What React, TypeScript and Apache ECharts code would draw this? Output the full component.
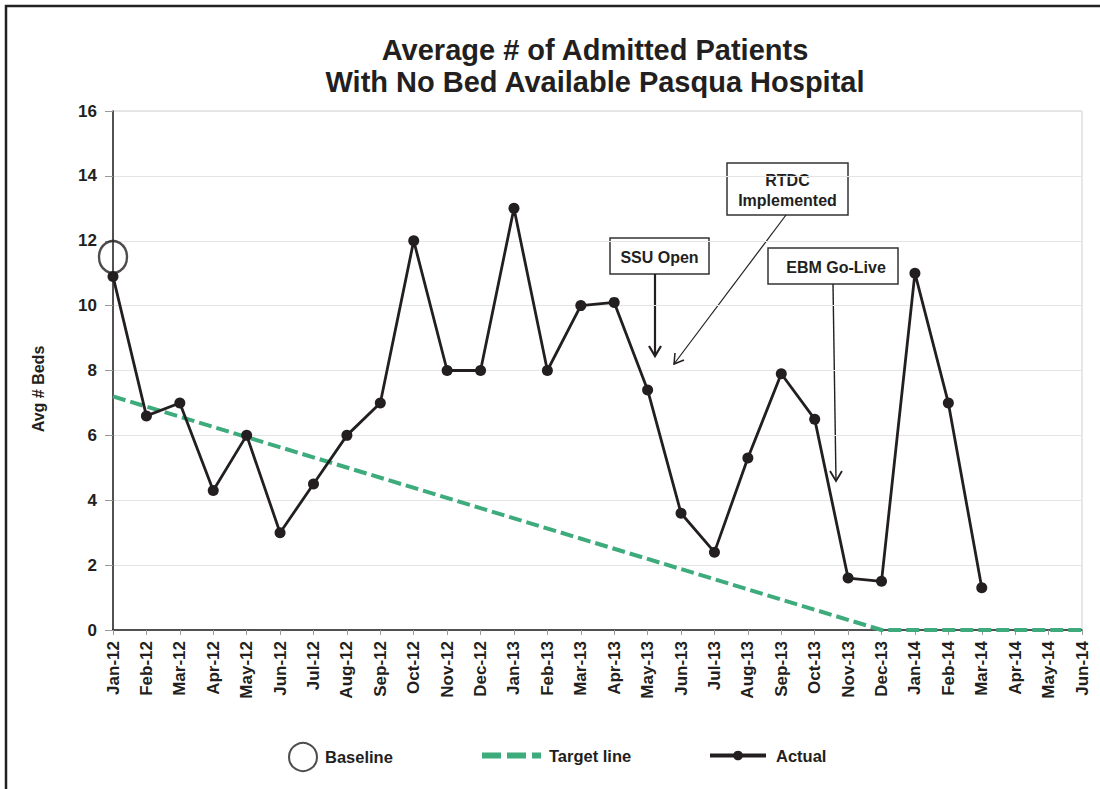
import React, { useEffect, useRef } from "react";
import * as echarts from "echarts";

const months = [
  "Jan-12", "Feb-12", "Mar-12", "Apr-12", "May-12", "Jun-12", "Jul-12", "Aug-12", "Sep-12", "Oct-12", "Nov-12", "Dec-12",
  "Jan-13", "Feb-13", "Mar-13", "Apr-13", "May-13", "Jun-13", "Jul-13", "Aug-13", "Sep-13", "Oct-13", "Nov-13", "Dec-13",
  "Jan-14", "Feb-14", "Mar-14", "Apr-14", "May-14", "Jun-14",
];

const actualValues = [
  10.9, 6.6, 7.0, 4.3, 6.0, 3.0, 4.5, 6.0, 7.0, 12.0, 8.0, 8.0,
  13.0, 8.0, 10.0, 10.1, 7.4, 3.6, 2.4, 5.3, 7.9, 6.5, 1.6, 1.5,
  11.0, 7.0, 1.3,
];

const targetPoints: [string, number][] = [
  ["Jan-12", 7.2],
  ["Dec-13", 0],
  ["Jun-14", 0],
];

const baselinePoint: [string, number][] = [["Jan-12", 11.5]];

const yTicks = { min: 0, max: 16, interval: 2 };

const FONT = "'Liberation Sans', Arial, Helvetica, sans-serif";
const INK = "#231f20";
const GREEN = "#3dab7b";

function arrow(points: number[][], width: number) {
  return {
    type: "polyline",
    shape: { points },
    style: { stroke: INK, lineWidth: width, fill: null },
    silent: true,
  };
}

export default function App() {
  const ref = useRef<HTMLDivElement>(null);
  useEffect(() => {
    if (!ref.current) return;
    const chart = echarts.init(ref.current, undefined, { renderer: "svg" });
    const boxText = (x: number, y: number, text: string) => ({
      type: "text",
      x,
      y,
      style: {
        text,
        fontFamily: FONT,
        fontWeight: "bold",
        fontSize: 16,
        lineHeight: 20,
        fill: INK,
        align: "center",
        verticalAlign: "middle",
      },
      silent: true,
    });
    const box = (x: number, y: number, w: number, h: number) => ({
      type: "rect",
      shape: { x, y, width: w, height: h },
      style: { fill: "#fff", stroke: "#333", lineWidth: 1.5 },
      silent: true,
    });
    const legendText = (padLeft: number) => ({
      fontFamily: FONT,
      fontWeight: "bold",
      fontSize: 16.5,
      color: INK,
      padding: [0, 0, 0, padLeft],
    });
    const option: any = {
      animation: false,
      backgroundColor: "#fff",
      title: {
        text: "Average # of Admitted Patients\nWith No Bed Available Pasqua Hospital",
        left: 590,
        top: 29,
        textAlign: "center",
        textStyle: {
          fontFamily: FONT,
          fontWeight: "bold",
          fontSize: 29,
          lineHeight: 32,
          color: INK,
        },
      },
      grid: {
        left: 113,
        right: 18,
        top: 111,
        bottom: 159,
        show: true,
        borderColor: "#cfcfcf",
        borderWidth: 1,
      },
      xAxis: {
        type: "category",
        data: months,
        boundaryGap: false,
        axisLine: { lineStyle: { color: INK, width: 1.5 } },
        axisTick: { show: true, length: 5, lineStyle: { color: "#999" } },
        axisLabel: {
          interval: 0,
          rotate: 90,
          margin: 11,
          fontFamily: FONT,
          fontWeight: "bold",
          fontSize: 17,
          color: INK,
        },
        splitLine: { show: false },
      },
      yAxis: {
        type: "value",
        min: yTicks.min,
        max: yTicks.max,
        interval: yTicks.interval,
        axisLine: { show: true, lineStyle: { color: INK, width: 1.5 } },
        axisTick: { show: true, length: 8, lineStyle: { color: "#999" } },
        axisLabel: {
          margin: 16,
          fontFamily: FONT,
          fontWeight: "bold",
          fontSize: 17,
          color: INK,
        },
        splitLine: { show: true, lineStyle: { color: "#e4e4e4", width: 1 } },
      },
      legend: [
        {
          data: ["Baseline"],
          left: 288,
          top: 742,
          padding: 0,
          itemWidth: 28,
          itemHeight: 28,
          selectedMode: false,
          textStyle: legendText(3),
        },
        {
          data: [
            {
              name: "Target line",
              icon: "path://M0,0H19V6H0Z M25,0H44V6H25Z M50,0H59V6H50Z",
            },
          ],
          left: 482,
          top: 747,
          padding: 0,
          itemWidth: 59,
          itemHeight: 6,
          selectedMode: false,
          textStyle: legendText(3),
        },
        {
          data: ["Actual"],
          left: 708,
          top: 747,
          padding: 0,
          itemWidth: 56,
          itemHeight: 12,
          selectedMode: false,
          lineStyle: { width: 4 },
          textStyle: legendText(5),
        },
      ],
      series: [
        {
          name: "Target line",
          type: "line",
          data: targetPoints,
          symbol: "none",
          z: 2,
          lineStyle: { color: GREEN, width: 4, type: [13, 5] },
          itemStyle: { color: GREEN },
        },
        {
          name: "Actual",
          type: "line",
          data: actualValues,
          symbol: "circle",
          symbolSize: 11,
          z: 3,
          lineStyle: { color: INK, width: 2.8 },
          itemStyle: { color: INK },
        },
        {
          name: "Baseline",
          type: "scatter",
          data: baselinePoint,
          symbol: "circle",
          symbolSize: [28, 32],
          z: 4,
          itemStyle: { color: "rgba(255,255,255,0)", borderColor: INK, borderWidth: 2.5 },
        },
      ],
      graphic: [
        {
          type: "polyline",
          shape: { points: [[6, 789], [6, 6], [1100, 6]] },
          style: { stroke: "#222", lineWidth: 2.5, fill: null },
          silent: true,
        },
        {
          type: "text",
          x: 38,
          y: 389,
          rotation: Math.PI / 2,
          style: {
            text: "Avg # Beds",
            fontFamily: FONT,
            fontWeight: "bold",
            fontSize: 16,
            fill: INK,
            align: "center",
            verticalAlign: "middle",
          },
          silent: true,
        },
        box(727, 163, 121, 52),
        boxText(787.5, 190, "RTDC\nImplemented"),
        box(610, 238, 99, 36),
        boxText(659.5, 257, "SSU Open"),
        box(768, 248, 130, 36),
        boxText(836, 267, "EBM Go-Live"),
        arrow([[655, 274], [655, 356]], 2.2),
        arrow([[649, 346], [655, 356], [661, 346]], 2.2),
        arrow([[786, 215], [674, 364]], 1.2),
        arrow([[684, 360], [674, 364], [675, 353]], 1.5),
        arrow([[833, 284], [836, 481]], 1.4),
        arrow([[830, 471], [836, 481], [842, 471]], 1.8),
      ],
    };
    chart.setOption(option);
    return () => chart.dispose();
  }, []);
  return (
    <div
      ref={ref}
      style={{ position: "fixed", left: 0, top: 0, width: 1100, height: 789, background: "#fff" }}
    />
  );
}
